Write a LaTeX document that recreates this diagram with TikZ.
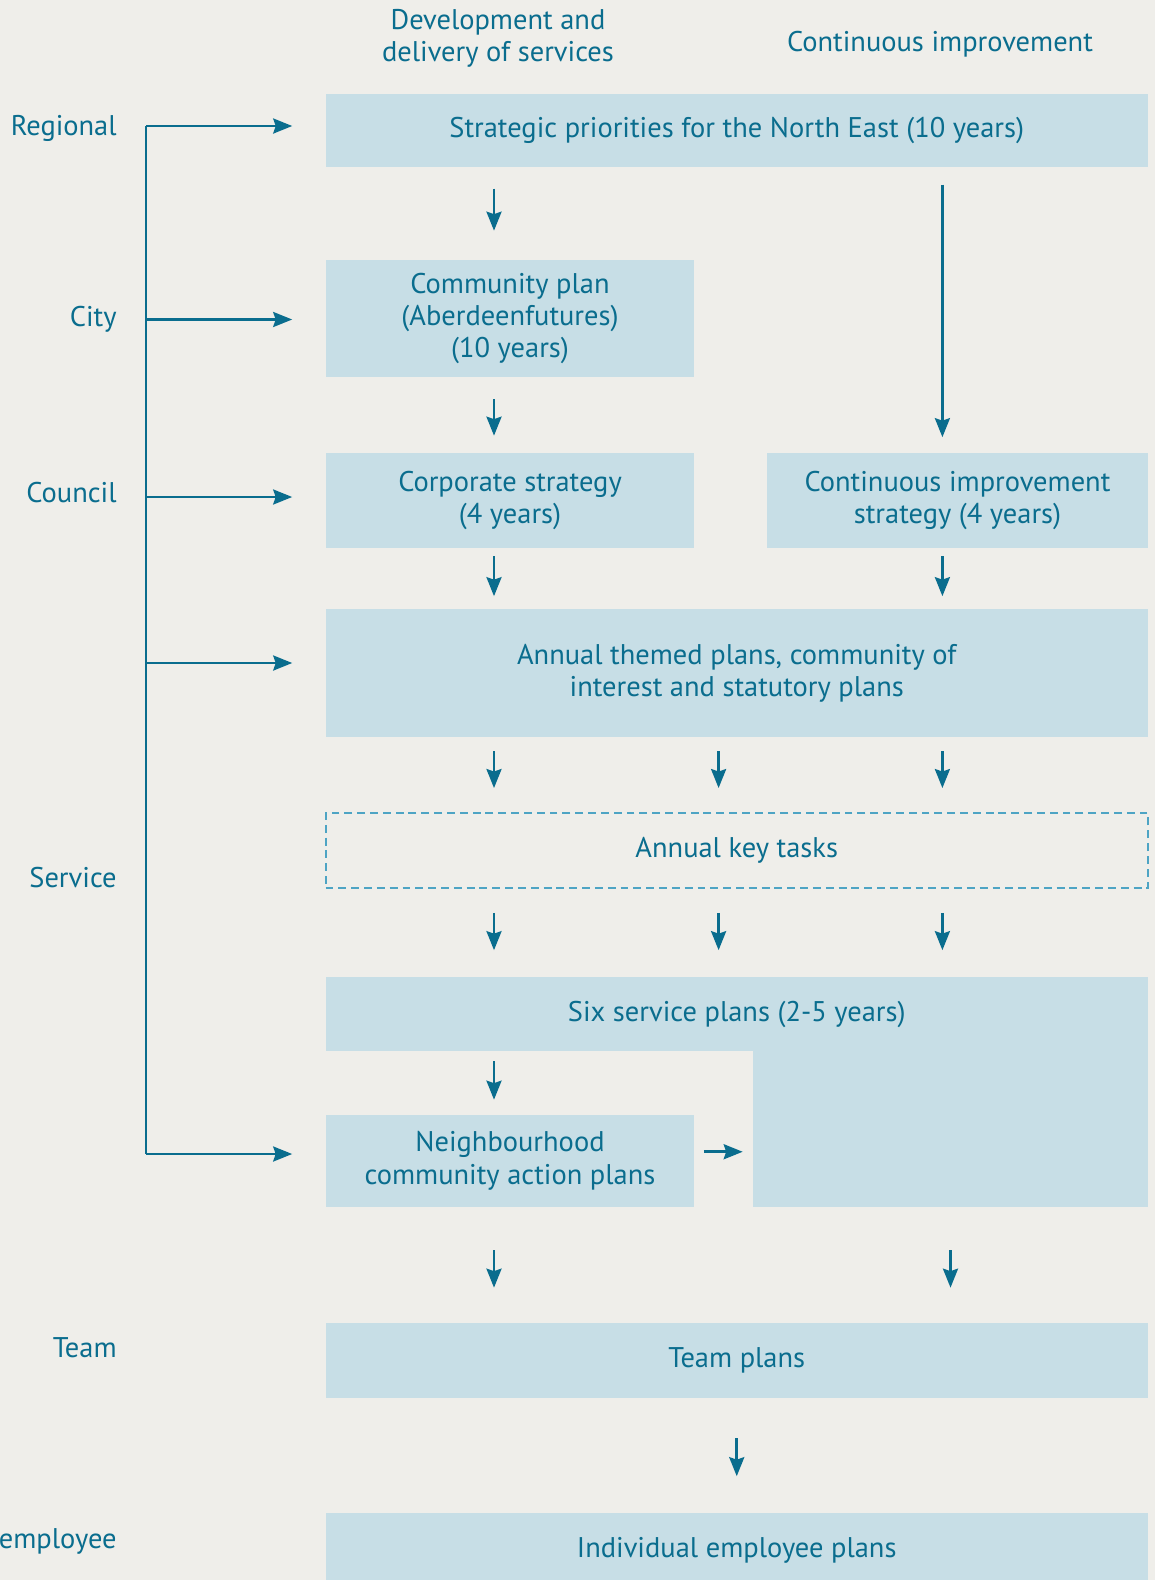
\documentclass[tikz,border=0pt]{standalone}
\usepackage{fontspec}
\setmainfont{PT Sans}
\usetikzlibrary{arrows.meta}
\definecolor{planbg}{HTML}{EFEEEA}
\definecolor{planfill}{HTML}{C7DEE6}
\definecolor{planink}{HTML}{0A6D8E}
\definecolor{plandash}{HTML}{4EA4C4}

\begin{document}
\begin{tikzpicture}[x=0.02cm, y=-0.02cm,
    font=\fontsize{16.2}{18.3}\selectfont,
    plan/.style={fill=planfill, text=planink, align=center, inner sep=0pt},
    wide/.style={plan, minimum width=16.45cm},
    narrow/.style={plan, minimum width=7.38cm},
    tier/.style={text=planink, anchor=base east, inner sep=0pt},
    head/.style={text=planink, align=center, inner sep=0pt},
    flow/.style={draw=planink, line width=1.5pt,
      -{Stealth[length=0.38cm, width=0.3cm, inset=0.05cm]}}]
    \fill[planbg] (0,0) rectangle (1155,1580);
    \useasboundingbox (0,0) rectangle (1155,1580);

    \node[head, anchor=base] (hdDev) at (498,61.5) {Development and\\delivery of services};
    \node[head, anchor=base] (hdCi) at (940,51) {Continuous improvement};

    \node[tier] (tRegional) at (117,135.5) {Regional};
    \node[tier] (tCity) at (117,326) {City};
    \node[tier] (tCouncil) at (117,502.5) {Council};
    \node[tier] (tService) at (117,887.5) {Service};
    \node[tier] (tTeam) at (117,1357.5) {Team};
    \node[tier] (tEmployee) at (117,1548) {employee};

    \node[wide, minimum height=1.47cm] (strat) at (736.75,130.5) {Strategic priorities for the North East (10 years)};
    \node[narrow, minimum height=2.34cm] (city) at (510,318.5) {Community plan\\(Aberdeenfutures)\\(10 years)};
    \node[narrow, minimum height=1.91cm] (corp) at (510,500.25) {Corporate strategy\\(4 years)};
    \node[plan, minimum width=7.62cm, minimum height=1.91cm] (cis) at (957.5,500.25) {Continuous improvement\\strategy (4 years)};
    \node[wide, minimum height=2.56cm] (annual) at (736.75,673) {Annual themed plans, community of\\interest and statutory plans};
    \node[wide, fill=none, draw=plandash, line width=1.1pt, dash pattern=on 4.5pt off 2.8pt,
      minimum height=1.5cm] (tasks) at (736.75,850.5) {Annual key tasks};
    \node[wide, minimum height=1.48cm] (six) at (736.75,1014) {Six service plans (2-5 years)};
    \node[plan, minimum width=7.9cm, minimum height=3.13cm] (ext) at (950.5,1128.25) {};
    \node[narrow, minimum height=1.83cm] (neigh) at (510,1160.75) {Neighbourhood\\community action plans};
    \node[wide, minimum height=1.5cm] (team) at (736.75,1360.5) {Team plans};
    \node[wide, minimum height=1.5cm] (indiv) at (736.75,1550.5) {Individual employee plans};

    \coordinate (colA) at (494,0);
    \coordinate (colB) at (718.6,0);
    \coordinate (colC) at (942.4,0);

    \coordinate (spReg) at (146,126);
    \coordinate (spCity) at (146,319.5);
    \coordinate (spCouncil) at (146,497);
    \coordinate (spAnnual) at (146,663);
    \coordinate (spNeigh) at (146,1154);

    \draw[planink, line width=1.5pt] (spReg) -- (spNeigh);
    \draw[flow, shorten >=0.66cm] (spReg) -- (spReg -| strat.west);
    \draw[flow, shorten >=0.66cm] (spCity) -- (spCity -| city.west);
    \draw[flow, shorten >=0.66cm] (spCouncil) -- (spCouncil -| corp.west);
    \draw[flow, shorten >=0.66cm] (spAnnual) -- (spAnnual -| annual.west);
    \draw[flow, shorten >=0.66cm] (spNeigh) -- (spNeigh -| neigh.west);

    \draw[flow, shorten <=0.42cm, shorten >=0.58cm] (strat.south -| colA) -- (city.north -| colA);
    \draw[flow, shorten <=0.34cm, shorten >=0.3cm] (strat.south -| colC) -- (cis.north -| colC);
    \draw[flow, shorten <=0.44cm, shorten >=0.33cm] (city.south -| colA) -- (corp.north -| colA);
    \draw[flow, shorten <=0.16cm, shorten >=0.25cm] (corp.south -| colA) -- (annual.north -| colA);
    \draw[flow, shorten <=0.16cm, shorten >=0.25cm] (cis.south -| colC) -- (annual.north -| colC);
    \draw[flow, shorten <=0.28cm, shorten >=0.48cm] (annual.south -| colA) -- (tasks.north -| colA);
    \draw[flow, shorten <=0.28cm, shorten >=0.48cm] (annual.south -| colB) -- (tasks.north -| colB);
    \draw[flow, shorten <=0.28cm, shorten >=0.48cm] (annual.south -| colC) -- (tasks.north -| colC);
    \draw[flow, shorten <=0.48cm, shorten >=0.53cm] (tasks.south -| colA) -- (six.north -| colA);
    \draw[flow, shorten <=0.48cm, shorten >=0.53cm] (tasks.south -| colB) -- (six.north -| colB);
    \draw[flow, shorten <=0.48cm, shorten >=0.53cm] (tasks.south -| colC) -- (six.north -| colC);
    \draw[flow, shorten <=0.2cm, shorten >=0.3cm] (six.south -| colA) -- (neigh.north -| colA);
    \draw[flow, shorten <=0.18cm, shorten >=0.2cm] ([yshift=0.18cm]neigh.east) -- ([yshift=0.18cm]neigh.east -| ext.west);
    \draw[flow, shorten <=0.87cm, shorten >=0.7cm] (neigh.south -| colA) -- (team.north -| colA);
    \draw[flow, shorten <=0.87cm, shorten >=0.7cm] (ext.south) -- (team.north -| ext.south);
    \draw[flow, shorten <=0.8cm, shorten >=0.73cm] (team.south) -- (indiv.north);
\end{tikzpicture}
\end{document}
